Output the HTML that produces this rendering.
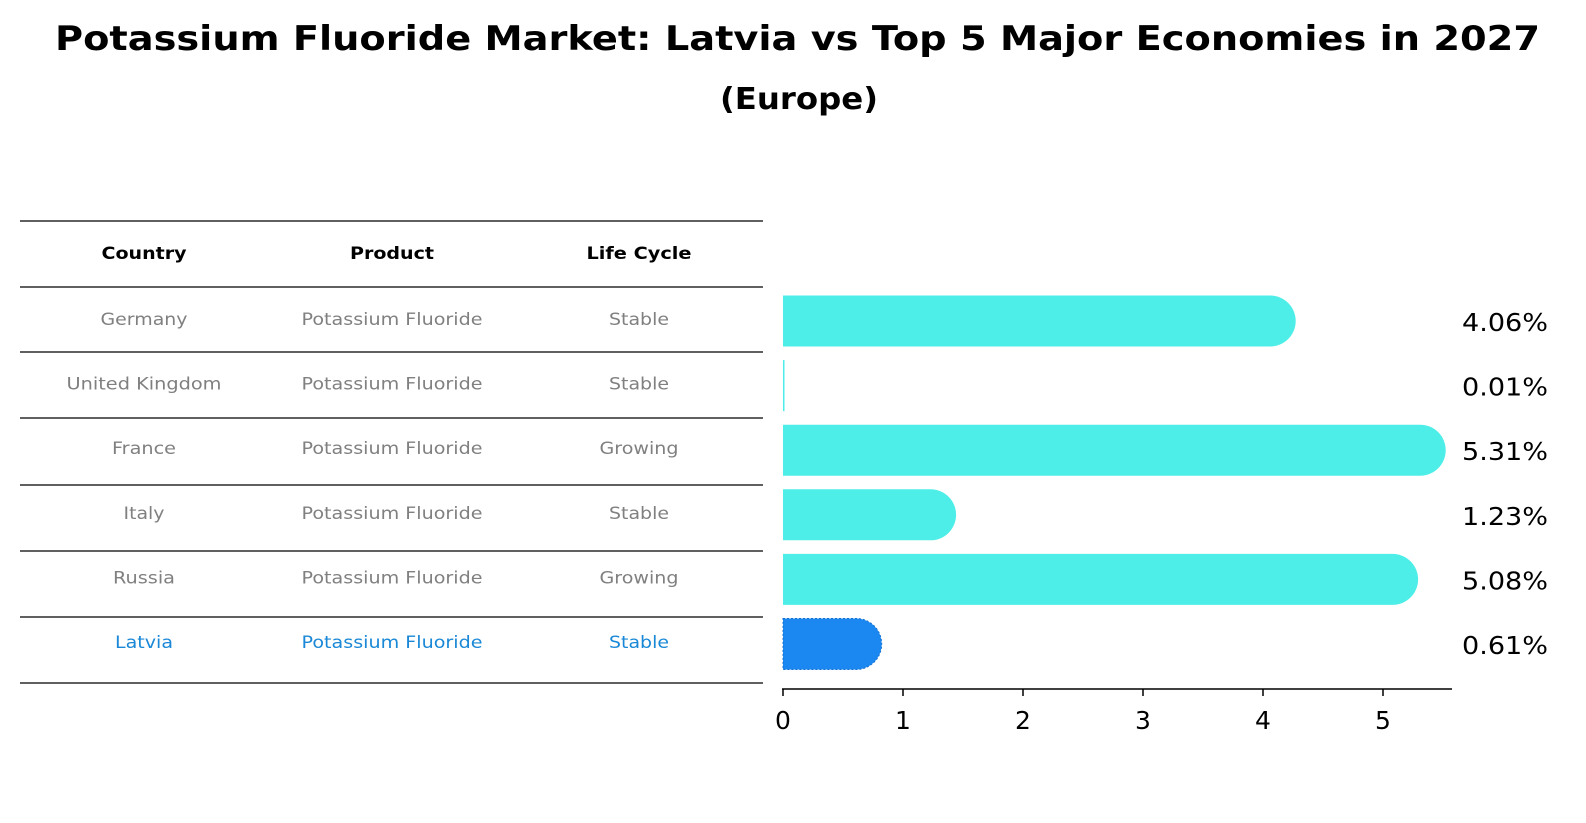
<!DOCTYPE html>
<html><head><meta charset="utf-8"><style>
body{margin:0;background:#fff;}
svg{display:block;font-family:"DejaVu Sans","Liberation Sans",sans-serif;}
</style></head><body>
<svg id="c" width="1586" height="823">
<text x="55" y="50" font-size="34" font-weight="bold" textLength="1485" lengthAdjust="spacingAndGlyphs">Potassium Fluoride Market: Latvia vs Top 5 Major Economies in 2027</text>
<text x="720" y="109" font-size="30" font-weight="bold" textLength="158" lengthAdjust="spacingAndGlyphs">(Europe)</text>
<g id="tbl"></g>
<g id="bars"></g>
</svg>
<script>
const countries=["Germany","United Kingdom","France","Italy","Russia","Latvia"];
const products=["Potassium Fluoride","Potassium Fluoride","Potassium Fluoride","Potassium Fluoride","Potassium Fluoride","Potassium Fluoride"];
const cycles=["Stable","Stable","Growing","Stable","Growing","Stable"];
const values=[4.06,0.01,5.31,1.23,5.08,0.61];
const ticks=[0,1,2,3,4,5];
const NS="http://www.w3.org/2000/svg";
const W={"Country":85,"Product":84,"Life Cycle":105,"Germany":87,"United Kingdom":155,"France":64,"Italy":41,"Russia":62,"Latvia":58,"Potassium Fluoride":181,"Stable":60,"Growing":79};
function mk(tag,attrs,parent,txt){const e=document.createElementNS(NS,tag);for(const k in attrs)e.setAttribute(k,attrs[k]);if(txt!==undefined)e.textContent=txt;parent.appendChild(e);return e;}
const tbl=document.getElementById('tbl'),bars=document.getElementById('bars');
const colX=[144,392,639];
const lines=[221,287,352,418,485,551,617,683];
lines.forEach(y=>{const l=mk('line',{x1:20,x2:763,y1:y,y2:y,stroke:'#000','stroke-width':1.2},tbl);

});
["Country","Product","Life Cycle"].forEach((h,i)=>{const t=mk('text',{x:colX[i]-W[h]/2,y:259,'font-size':17,'font-weight':'bold',textLength:W[h],lengthAdjust:'spacingAndGlyphs'},tbl,h);

});
const xS=v=>783+v*120;
const barCY=i=>321+i*64.6;
countries.forEach((c,i)=>{
  const col=i===countries.length-1?'#1a88d6':'#808080';
  [c,products[i],cycles[i]].forEach((s,j)=>{const t=mk('text',{x:colX[j]-W[s]/2,y:barCY(i)+4,'font-size':17,fill:col,textLength:W[s],lengthAdjust:'spacingAndGlyphs'},tbl,s);
  
  });
  const latv=i===countries.length-1;
  const h=51,r=25.5,x0=xS(0),x1=xS(values[i]),y=barCY(i)-h/2;
  let d;
  if(values[i]<0.05){d=`M${x0},${y}h${Math.max(x1-x0,1.5)}v${h}h${-Math.max(x1-x0,1.5)}z`;}
  else d=`M${x0},${y}H${x1}A${r},${r} 0 0 1 ${x1},${y+h}H${x0}Z`;
  const p=mk('path',{d:d,fill:latv?'#1a88f0':'#4deee8',stroke:latv?'#1470d0':'none','stroke-dasharray':'2,2','stroke-width':latv?1:0},bars);
  
  
  const t=mk('text',{x:1462,y:barCY(i)+10,'font-size':25,textLength:86,lengthAdjust:'spacingAndGlyphs'},bars,values[i].toFixed(2)+'%');
  
  
});
const ax=mk('line',{x1:782,x2:1452,y1:689,y2:689,stroke:'#000','stroke-width':1.5},bars);


ticks.forEach(v=>{const l=mk('line',{x1:xS(v),x2:xS(v),y1:689,y2:696,stroke:'#000','stroke-width':1.5},bars);


const t=mk('text',{x:xS(v),y:729,'text-anchor':'middle','font-size':25},bars,String(v));

});
</script>
</body></html>
